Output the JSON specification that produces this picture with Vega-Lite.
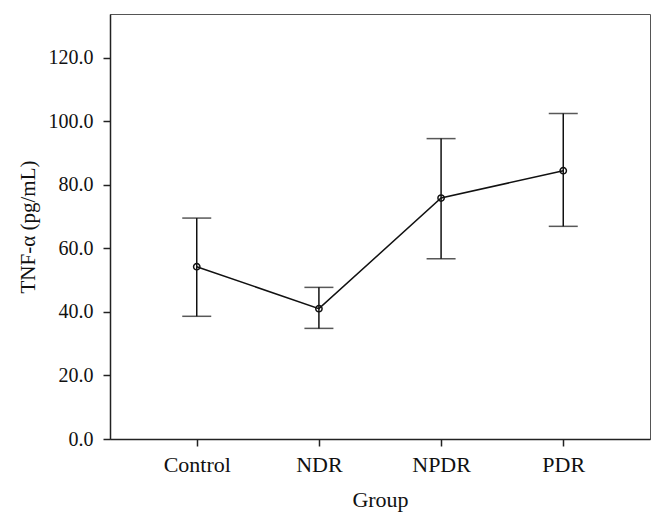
{
  "$schema": "https://vega.github.io/schema/vega-lite/v6.json",
  "autosize": "none",
  "width": 540,
  "height": 425,
  "padding": {"left": 110, "top": 14, "right": 15, "bottom": 85},
  "background": "white",
  "config": {
    "view": {"stroke": "#555555", "strokeWidth": 1},
    "font": "Liberation Serif",
    "axis": {
      "labelFont": "Liberation Serif",
      "titleFont": "Liberation Serif",
      "labelFontSize": 20,
      "titleFontSize": 21,
      "labelColor": "#111111",
      "titleColor": "#111111",
      "titleFontWeight": "normal",
      "domainColor": "#222222",
      "domainWidth": 1.5,
      "tickColor": "#222222",
      "tickWidth": 1.5,
      "tickSize": 7,
      "grid": false
    }
  },
  "data": {
    "values": [
      {"group": "Control", "mean": 54.2, "lower": 38.6, "upper": 69.5},
      {"group": "NDR", "mean": 41.0, "lower": 34.8, "upper": 47.7},
      {"group": "NPDR", "mean": 75.8, "lower": 56.7, "upper": 94.5},
      {"group": "PDR", "mean": 84.4, "lower": 66.9, "upper": 102.4}
    ]
  },
  "encoding": {
    "x": {
      "field": "group",
      "type": "nominal",
      "sort": null,
      "scale": {"type": "point", "padding": 0.71},
      "axis": {"title": "Group", "labelAngle": 0, "labelPadding": 8, "labelFontSize": 22, "titleFontSize": 22, "titlePadding": 14}
    }
  },
  "layer": [
    {
      "mark": {"type": "rule", "color": "#111111", "strokeWidth": 1.5},
      "encoding": {
        "y": {
          "field": "lower",
          "type": "quantitative",
          "scale": {"domain": [0, 133.7], "nice": false, "zero": true},
          "axis": {
            "title": "TNF-α (pg/mL)",
            "values": [0, 20, 40, 60, 80, 100, 120],
            "format": ".1f",
            "labelPadding": 10,
            "titlePadding": 10
          }
        },
        "y2": {"field": "upper"}
      }
    },
    {
      "mark": {"type": "tick", "orient": "horizontal", "color": "#111111", "size": 29, "thickness": 1.5},
      "encoding": {"y": {"field": "upper", "type": "quantitative"}}
    },
    {
      "mark": {"type": "tick", "orient": "horizontal", "color": "#111111", "size": 29, "thickness": 1.5},
      "encoding": {"y": {"field": "lower", "type": "quantitative"}}
    },
    {
      "mark": {"type": "line", "color": "#111111", "strokeWidth": 1.5},
      "encoding": {"y": {"field": "mean", "type": "quantitative"}}
    },
    {
      "mark": {"type": "point", "shape": "circle", "filled": false, "color": "#111111", "size": 40, "strokeWidth": 1.5, "opacity": 1},
      "encoding": {"y": {"field": "mean", "type": "quantitative"}}
    }
  ]
}
